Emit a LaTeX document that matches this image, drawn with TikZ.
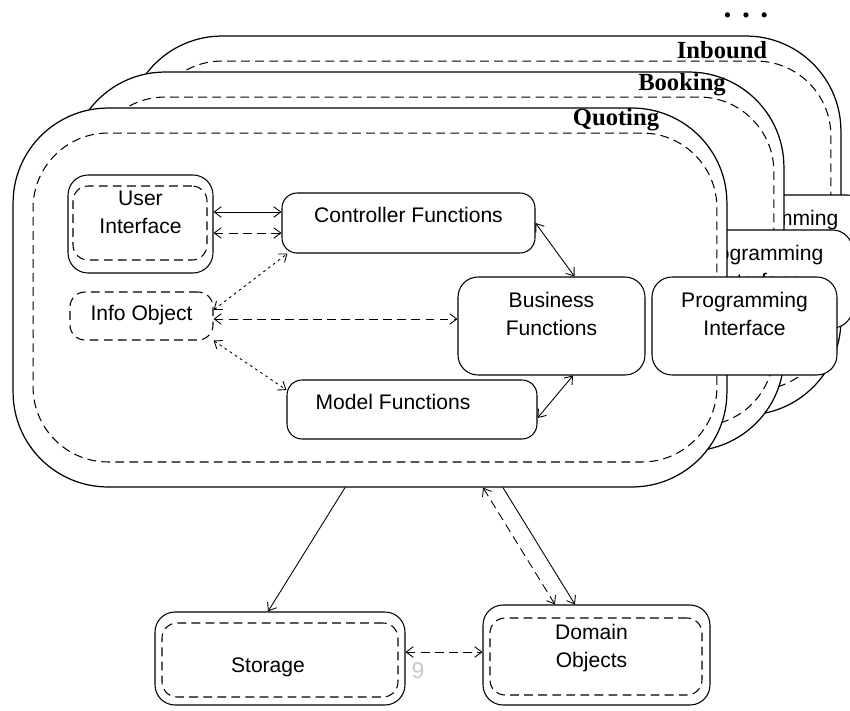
\documentclass[tikz,border=0pt]{standalone}
\usepackage{fontspec}
\setmainfont{Liberation Sans}
\newfontfamily\layerfont{Liberation Serif}
\usetikzlibrary{arrows.meta,calc}

\begin{document}
\begin{tikzpicture}[
    x=0.02cm, y=-0.02cm,
    >={Straight Barb[length=4pt,width=6pt]},
    dline/.style={dash pattern=on 5pt off 3pt},
    layer/.style={draw, fill=white, line width=0.7pt, rounded corners=1.9cm, minimum width=14.28cm, minimum height=7.58cm, inner sep=0pt},
    layerin/.style={draw, dline, line width=0.6pt, rounded corners=1.5cm, minimum width=13.68cm, minimum height=6.58cm, inner sep=0pt},
    layername/.style={font=\layerfont\bfseries\fontsize{14}{16}\selectfont, inner sep=0pt},
    box/.style={draw, fill=white, line width=0.6pt, rounded corners=0.4cm, align=center, inner sep=0pt, font=\fontsize{12}{16}\selectfont},
    dashbox/.style={box, dline, rounded corners=0.3cm},
    innerbox/.style={draw, dline, line width=0.6pt, rounded corners=0.3cm, inner sep=0pt},
    api/.style={box, minimum width=3.7cm, minimum height=1.96cm, text depth=13.8pt},
    link/.style={<->, line width=0.5pt},
    dashlink/.style={link, dline},
    dotlink/.style={link, dash pattern=on 1.5pt off 2pt}
]
    \useasboundingbox (0,0) rectangle (850,711);
    \clip (0,0) rectangle (850,711);

    \node[layername, font=\layerfont\bfseries\fontsize{18}{20}\selectfont] (more) at (746,15) {.\kern6pt.\kern6pt.};

    % back layer
    \node[layer] (inbound) at (484,225.5) {};
    \node[layerin] (inboundin) at ([xshift=0.1cm]inbound.center) {};
    \node[layername] (inboundname) at (722,50) {Inbound};
    \node[api] (inboundapi) at (775,244) {Programming\\Interface};

    % middle layer
    \node[layer] (booking) at (427,261.5) {};
    \node[layerin] (bookingin) at ([xshift=0.1cm]booking.center) {};
    \node[layername] (bookingname) at (682,85) {Booking};
    \node[api] (bookingapi) at (760,279) {Programming\\Interface};

    % front layer
    \node[layer] (quoting) at (370,297.5) {};
    \node[layerin] (quotingin) at ([xshift=0.1cm]quoting.center) {};
    \node[layername] (quotingname) at (616,120) {Quoting};

    \node[box, minimum width=2.9cm, minimum height=1.96cm, text depth=13.8pt] (ui) at (140.5,224) {User\\Interface};
    \node[innerbox, minimum width=2.68cm, minimum height=1.48cm] (uiin) at (140,223) {};
    \node[box, rounded corners=0.3cm, minimum width=5.06cm, minimum height=1.2cm, text depth=9.2pt] (ctrl) at (408.5,223) {Controller Functions};
    \node[dashbox, minimum width=2.86cm, minimum height=0.96cm, text depth=3.6pt] (info) at (141.5,316) {Info Object};
    \node[box, minimum width=3.74cm, minimum height=1.96cm, text depth=13.8pt] (bus) at (551.5,326) {Business\\Functions};
    \node[box, rounded corners=0.3cm, minimum width=5cm, minimum height=1.18cm, text depth=8.2pt] (model) at (412,409.5) {Model Functions\kern0.76cm};
    \node[api] (quotingapi) at (744.5,326) {Programming\\Interface};

    \draw[link] (ui.east |- 0,212) -- (ctrl.west |- 0,212);
    \draw[dashlink] (ui.east |- 0,233) -- (ctrl.west |- 0,233);
    \draw[dotlink] (info.east |- 0,310) -- ([xshift=0.12cm]ctrl.south west);
    \draw[dashlink] (info.east |- 0,319) -- (bus.west |- 0,319);
    \draw[dotlink] (info.south east) -- (model.west |- 0,390);
    \draw[link] (ctrl.east) -- ([xshift=0.46cm]bus.north);
    \draw[link] ([yshift=-0.17cm]model.east) -- ([xshift=0.43cm]bus.south);

    % shared parts
    \node[box, minimum width=5cm, minimum height=1.86cm, text height=18pt] (storage) at (280,658.5) {Storage\kern0.48cm};
    \node[innerbox, minimum width=4.72cm, minimum height=1.48cm] (storagein) at (280,660) {};
    \node[box, minimum width=4.54cm, minimum height=2cm, text depth=10.4pt] (domain) at (596.5,655) {Domain\kern0.2cm\\Objects\kern0.2cm};
    \node[innerbox, minimum width=4.24cm, minimum height=1.54cm] (domainin) at (596,656.5) {};
    \node[text=black!22, font=\fontsize{13}{16}\selectfont, inner sep=0pt] (pageno) at (418,671) {9};

    \draw[->, line width=0.5pt] ([xshift=-0.5cm]quoting.south) -- ([xshift=-0.24cm]storage.north);
    \draw[dashlink] ([xshift=2.26cm]quoting.south) -- ([xshift=-0.83cm]domain.north);
    \draw[->, line width=0.5pt] ([xshift=2.66cm]quoting.south) -- ([xshift=-0.43cm]domain.north);
    \draw[dashlink] (storage.east |- 0,652) -- (domain.west |- 0,652);
\end{tikzpicture}
\end{document}
